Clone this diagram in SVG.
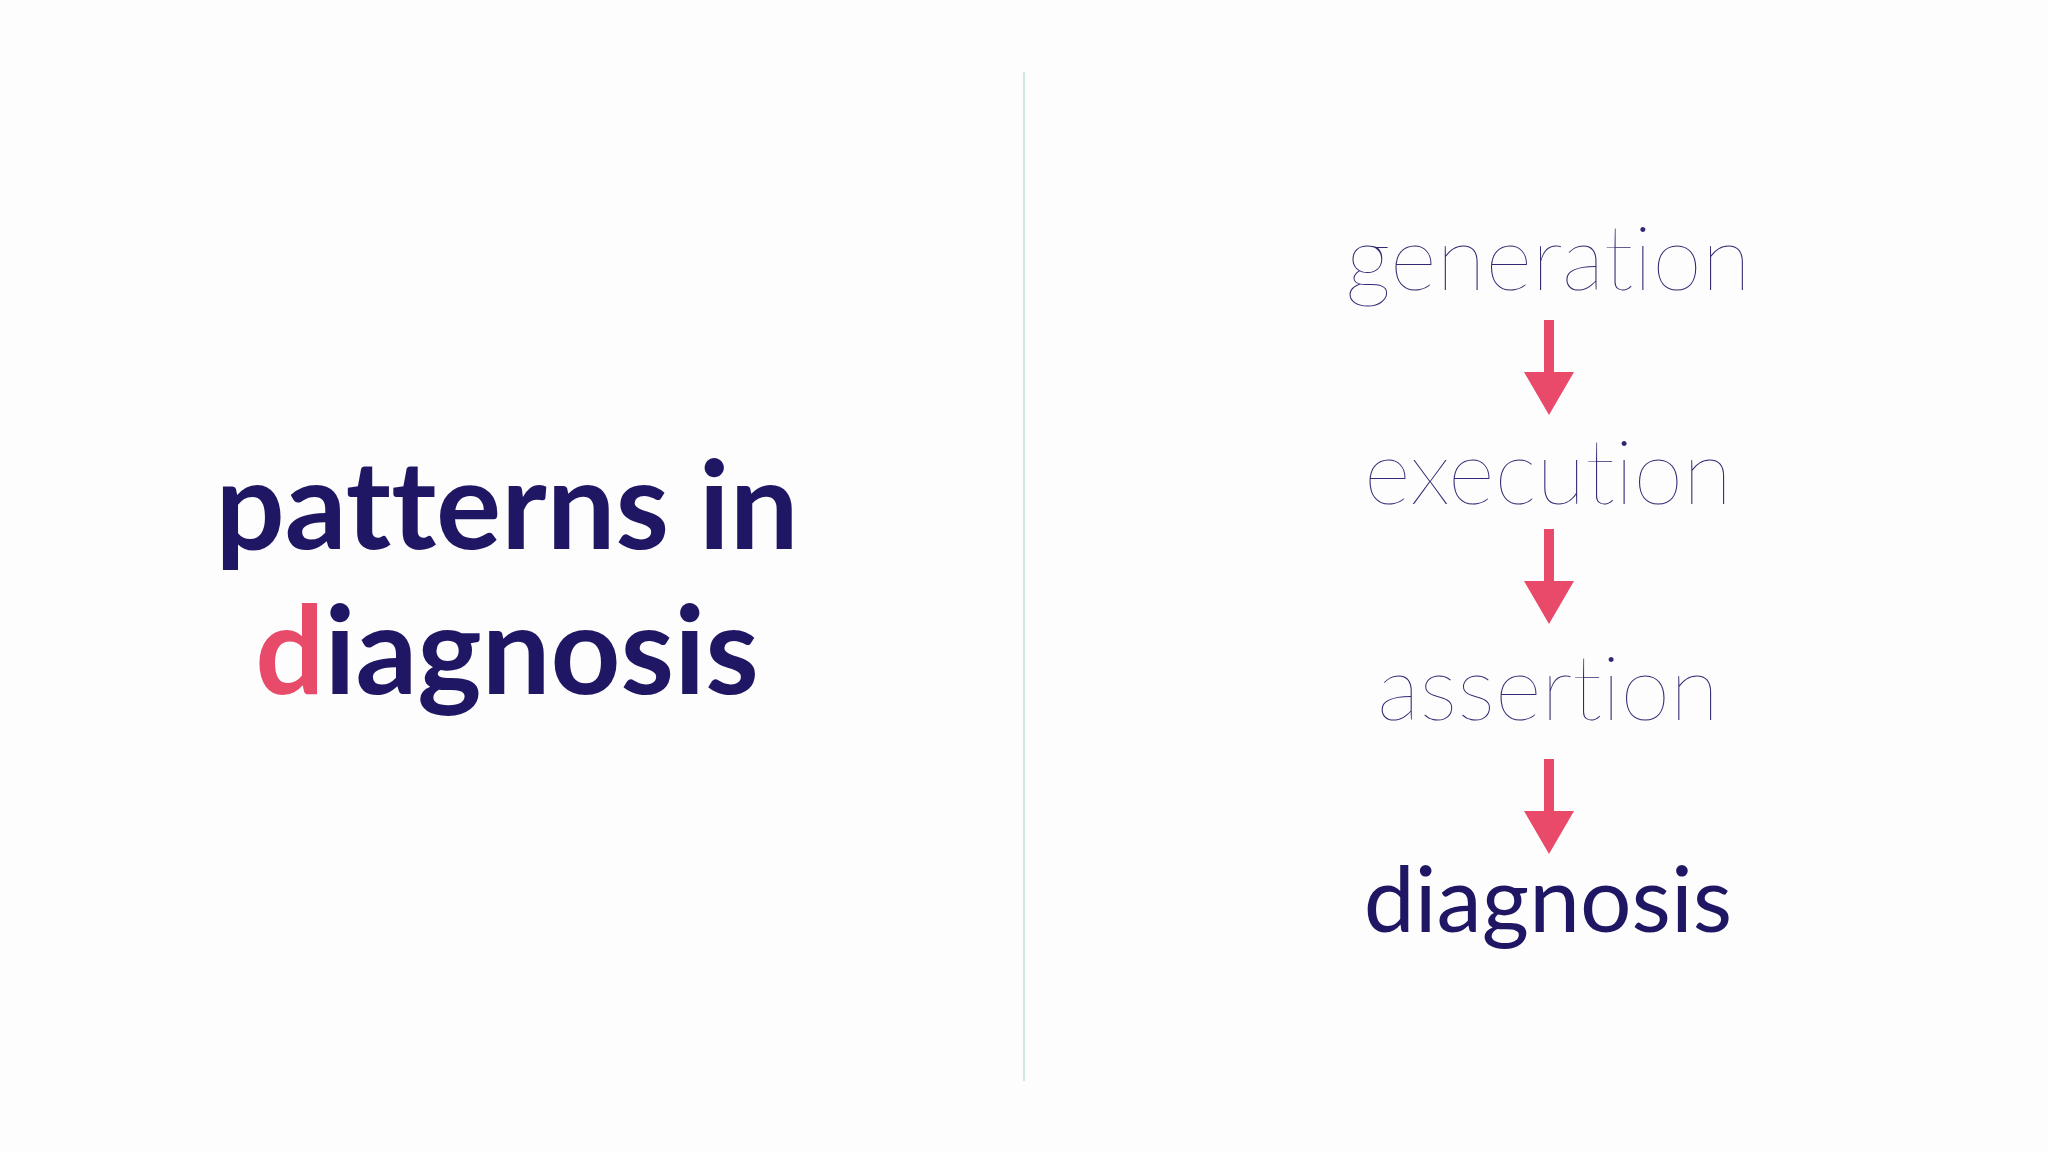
<svg xmlns="http://www.w3.org/2000/svg" width="2048" height="1152" viewBox="0 0 2048 1152">
<style>
.t{font-family:Lato,"Liberation Sans",sans-serif;text-anchor:middle;fill:#1f1763;font-variant-ligatures:none}
.big{font-size:122px;font-weight:700}
.thin{font-size:90px;font-weight:100;fill:#2f2a72}
.reg{font-size:91px;font-weight:400}
.arrow{fill:#ea4a6a}
</style>
<rect width="2048" height="1152" fill="#fdfdfd"/>
<line x1="1024" y1="72" x2="1024" y2="1081" stroke="#cfe8e6" stroke-width="2"/>
<g id="title">
<text class="t big" x="507" y="549">patterns in</text>
<text class="t big" x="507" y="694"><tspan fill="#e84a6a">d</tspan>iagnosis</text>
</g>
<g id="generation"><text class="t thin" x="1548" y="290">generation</text></g>
<g id="execution"><text class="t thin" x="1548" y="504">execution</text></g>
<g id="assertion"><text class="t thin" x="1548" y="720">assertion</text></g>
<g id="diagnosis"><text class="t reg" x="1548" y="932">diagnosis</text></g>
<g id="connectors" class="arrow">
<path d="M1544 320h10v52h20l-25 43l-25-43h20z"/>
<path d="M1544 529h10v52h20l-25 43l-25-43h20z"/>
<path d="M1544 759h10v52h20l-25 43l-25-43h20z"/>
</g>
</svg>
